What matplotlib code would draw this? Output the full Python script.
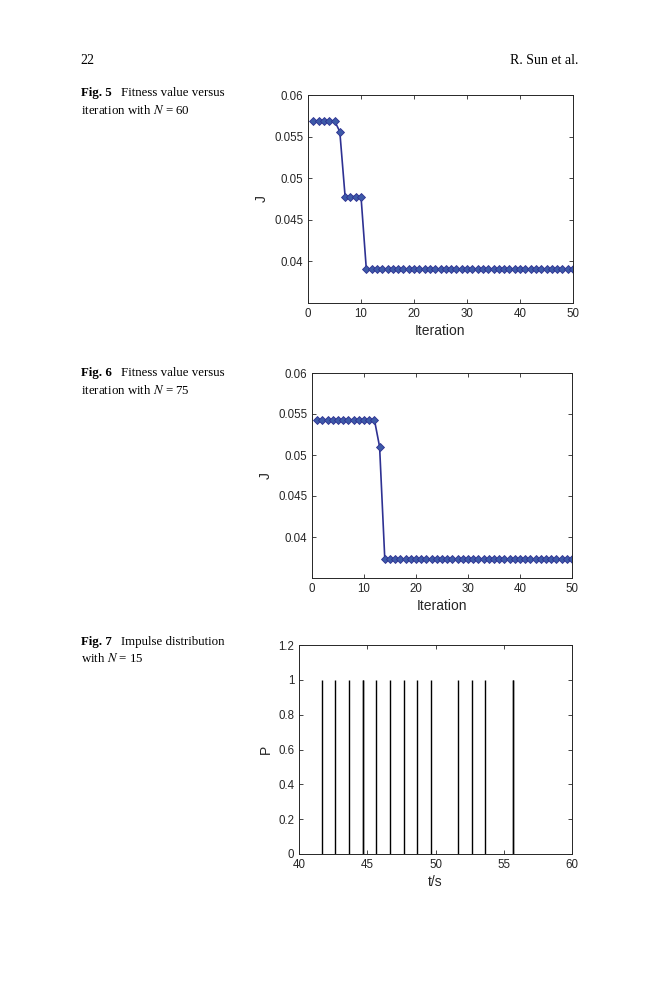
#Fitness value and impulse distribution page -> figures 5, 6, 7
import matplotlib
matplotlib.use("Agg")
import matplotlib.pyplot as plt

plt.rcParams['font.family'] = ['Liberation Sans', 'DejaVu Sans']
plt.rcParams['mathtext.fontset'] = 'stix'

#data
iter_60 = list(range(1, 51))
J_60 = [0.0569]*5 + [0.0556] + [0.0478]*4 + [0.0391]*40

iter_75 = list(range(1, 51))
J_75 = [0.0543]*12 + [0.0510] + [0.0373]*37

t_impulse = [41.66, 42.66, 43.66, 44.66, 44.70, 45.66, 46.66, 47.66, 48.66,
             49.66, 51.66, 52.66, 53.66, 55.66, 55.71]
P_impulse = [1]*len(t_impulse)

line_col = '#2e3192'
mark_col = '#3d5aa8'
ax_col = '#262626'

fig = plt.figure(figsize=(6.59, 10), dpi=100)

def px(x, y):
    return x/659, 1 - y/1000

def style_axes(ax):
    ax.tick_params(direction='in', top=True, right=True, labelsize=8.3, length=3,
                   width=0.6, colors=ax_col)
    for s in ax.spines.values():
        s.set_linewidth(0.7)
        s.set_color(ax_col)

#Fig 5
ax1 = fig.add_axes([308/659, 1-303/1000, 265/659, 208/1000])
ax1.plot(iter_60, J_60, '-', color=line_col, lw=1.2, marker='D', ms=3.6,
         mfc=mark_col, mec=line_col, mew=0.6)
ax1.set_xlim(0, 50)
ax1.set_ylim(0.035, 0.06)
ax1.set_xticks([0, 10, 20, 30, 40, 50])
ax1.set_yticks([0.04, 0.045, 0.05, 0.055, 0.06])
ax1.set_yticklabels(['0.04', '0.045', '0.05', '0.055', '0.06'])
ax1.set_xlabel('Iteration', fontsize=10, labelpad=3, color=ax_col)
ax1.set_ylabel('J', fontsize=10, labelpad=4, color=ax_col)
style_axes(ax1)

#Fig 6
ax2 = fig.add_axes([312/659, 1-578/1000, 260/659, 205/1000])
ax2.plot(iter_75, J_75, '-', color=line_col, lw=1.2, marker='D', ms=3.6,
         mfc=mark_col, mec=line_col, mew=0.6)
ax2.set_xlim(0, 50)
ax2.set_ylim(0.035, 0.06)
ax2.set_xticks([0, 10, 20, 30, 40, 50])
ax2.set_yticks([0.04, 0.045, 0.05, 0.055, 0.06])
ax2.set_yticklabels(['0.04', '0.045', '0.05', '0.055', '0.06'])
ax2.set_xlabel('Iteration', fontsize=10, labelpad=3, color=ax_col)
ax2.set_ylabel('J', fontsize=10, labelpad=4, color=ax_col)
style_axes(ax2)

#Fig 7
ax3 = fig.add_axes([299/659, 1-854/1000, 273/659, 209/1000])
ax3.vlines(t_impulse, 0, P_impulse, color='black', lw=1.0)
ax3.set_xlim(40, 60)
ax3.set_ylim(0, 1.2)
ax3.set_xticks([40, 45, 50, 55, 60])
ax3.set_yticks([0, 0.2, 0.4, 0.6, 0.8, 1, 1.2])
ax3.set_yticklabels(['0', '0.2', '0.4', '0.6', '0.8', '1', '1.2'])
ax3.set_xlabel('t/s', fontsize=10, labelpad=3, color=ax_col)
ax3.set_ylabel('P', fontsize=10, labelpad=4, color=ax_col)
style_axes(ax3)

#page text
serif = 'Liberation Serif'
fig.text(*px(80, 60), '22', family=serif, fontsize=10, va='center')
fig.text(*px(578, 60), 'R. Sun et al.', family=serif, fontsize=10, va='center', ha='right')

captions = [(93, 'Fig. 5', 'Fitness value versus', 'iteration with $N$ = 60'),
            (373, 'Fig. 6', 'Fitness value versus', 'iteration with $N$ = 75'),
            (642, 'Fig. 7', 'Impulse distribution', 'with $N$ = 15')]
for y, bold, line1, line2 in captions:
    fig.text(*px(81, y), bold, family=serif, fontsize=9.3, weight='bold', va='center')
    fig.text(*px(121, y), line1, family=serif, fontsize=9.3, va='center')
    fig.text(*px(81, y + 17), line2, family=serif, fontsize=9.3, va='center')

fig.savefig('out.png', dpi=100)
